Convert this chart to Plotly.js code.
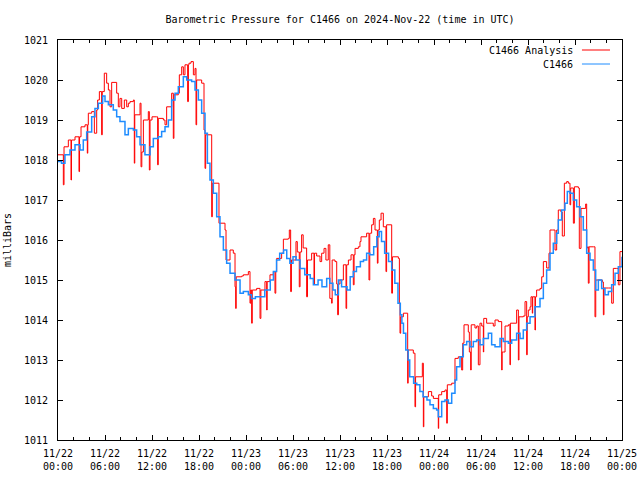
<!DOCTYPE html>
<html>
<head>
<meta charset="utf-8">
<script src="https://cdn.plot.ly/plotly-3.0.1.min.js"></script>
<style>html,body{margin:0;padding:0;background:#fff;}#chart{width:640px;height:480px;}</style>
</head>
<body>
<div id="chart"></div>
<script>
// Hours since 2024-11-22 00:00 UTC
const stationHours = [0,0.45,0.89,1.53,2.17,2.81,3.23,3.66,4.3,4.72,5.15,5.7,6.0,6.43,7.06,7.49,7.91,8.55,8.98,9.62,10.04,10.47,11.1,11.75,12.17,12.81,13.23,13.66,14.09,14.51,14.94,15.36,16.0,16.43,17.06,17.49,17.92,18.34,18.77,19.07,19.4,19.83,20.26,20.68,21.11,21.53,21.96,22.6,23.24,23.66,24.3,24.7,25.2,25.8,26.4,27.1,27.5,27.9,28.3,28.8,29.2,29.6,30.0,30.4,30.9,31.5,32.2,32.6,33.2,33.7,34.3,34.7,35.1,35.4,35.8,36.2,36.9,37.3,37.7,38.1,38.6,39.0,39.4,39.8,40.3,40.7,41.0,41.3,41.7,42.2,42.6,43.0,43.4,43.7,43.9,44.1,44.4,44.7,44.9,45.4,45.8,46.2,46.6,47.1,47.49,47.92,48.34,48.55,48.98,49.4,49.83,50.26,50.68,50.89,51.32,51.74,52.17,52.6,53.02,53.45,53.87,54.3,54.94,55.36,55.79,56.43,56.85,57.49,57.92,58.55,58.98,59.4,59.83,60.26,60.89,61.53,61.96,62.38,62.81,63.23,63.66,63.87,64.3,64.72,65.02,65.36,65.79,66.21,66.64,67.06,67.49,67.92,68.34,68.64,68.98,69.4,69.83,70.26,70.68,71.11,71.53,72.0];
const stationValues = [1017.96,1017.92,1018.13,1018.25,1018.38,1018.25,1018.5,1018.7,1019.08,1019.29,1019.42,1019.6,1019.46,1019.38,1019.25,1019.08,1018.96,1018.63,1018.79,1018.75,1018.58,1018.38,1018.13,1018.33,1018.54,1018.58,1018.71,1018.83,1019.0,1019.5,1019.67,1019.83,1020.08,1020.0,1019.96,1019.75,1019.5,1019.17,1018.67,1017.92,1017.5,1017.17,1016.58,1016.08,1015.75,1015.42,1015.17,1015.0,1014.67,1014.71,1014.63,1014.54,1014.58,1014.58,1014.75,1015.0,1015.21,1015.5,1015.67,1015.75,1015.54,1015.42,1015.58,1015.5,1015.29,1015.13,1015.04,1014.88,1015.0,1014.83,1015.04,1014.92,1014.75,1014.63,1015.0,1014.83,1014.75,1015.08,1015.21,1015.33,1015.46,1015.5,1015.67,1015.63,1015.83,1016.08,1016.21,1015.96,1015.67,1015.46,1015.25,1014.92,1014.42,1014.13,1013.92,1013.67,1013.25,1013.0,1012.58,1012.42,1012.38,1012.21,1012.08,1012.0,1011.88,1011.79,1011.75,1011.58,1011.96,1012.0,1011.92,1012.17,1012.5,1012.83,1013.08,1013.38,1013.46,1013.33,1013.46,1013.5,1013.38,1013.54,1013.67,1013.38,1013.33,1013.54,1013.46,1013.42,1013.5,1013.67,1013.54,1013.75,1013.92,1014.08,1014.33,1014.54,1014.92,1015.25,1015.67,1015.92,1016.17,1016.5,1016.75,1016.92,1017.21,1017.17,1017.0,1016.83,1016.58,1016.25,1015.67,1015.5,1015.25,1014.75,1015.0,1014.79,1014.63,1014.71,1014.88,1015.17,1015.33,1015.58];

const analysisHours = [0,0.68,0.77,1.32,1.66,1.72,2.17,2.68,2.75,2.94,3.45,3.74,3.8,3.87,4.3,4.64,4.94,5.06,5.28,5.57,5.65,5.91,6.21,6.43,6.64,6.85,7.49,7.7,7.91,8.13,8.47,8.77,8.98,9.19,9.62,9.74,9.8,10.47,10.6,10.7,10.9,11.53,11.66,11.75,12.0,12.6,12.72,12.8,13.45,13.66,13.87,14.51,14.72,14.8,15.36,15.49,15.79,16.0,16.21,16.55,16.65,16.72,16.98,17.28,17.49,17.62,17.7,18.34,18.64,18.77,18.85,19.62,19.7,20.55,21.32,21.45,21.96,22.38,22.6,22.68,22.75,23.45,23.66,24.3,24.51,24.6,24.72,24.8,25.36,25.79,25.9,26.42,26.64,26.7,27.06,27.49,27.7,27.8,27.91,28.55,28.77,29.4,29.53,29.7,29.8,30.04,30.38,30.55,30.8,30.9,31.1,31.3,31.74,31.85,32.38,32.68,32.75,33.02,33.45,33.66,33.96,34.2,34.5,34.7,34.93,35.0,35.36,35.58,35.7,35.8,36.0,36.43,36.77,36.85,37.07,37.41,37.7,37.8,37.92,38.34,38.55,38.68,39.4,39.7,39.8,40.04,40.26,40.47,40.77,40.85,41.02,41.24,41.53,41.87,41.95,42.6,42.7,43.45,43.58,43.66,43.75,44.09,44.64,44.7,45.36,45.57,45.65,46.51,46.64,46.7,47.28,47.7,47.92,48.55,48.6,48.98,49.4,49.62,49.7,50.26,50.68,51.1,51.53,51.66,51.83,52.38,52.51,52.68,52.75,53.23,53.45,53.66,53.87,54.09,54.3,54.35,54.72,55.36,55.57,55.79,56.21,56.64,56.7,56.85,57.07,57.49,57.7,57.75,58.34,58.55,58.77,58.85,59.4,59.62,59.83,59.9,60.04,60.26,60.38,60.55,60.6,60.89,60.95,61.1,61.53,61.75,61.96,62.38,62.68,62.81,63.11,63.45,63.66,63.87,64.21,64.38,64.64,64.94,65.15,65.36,65.45,65.79,65.92,66.43,66.55,66.77,67.28,67.36,67.49,67.62,67.7,67.8,68.34,68.55,68.65,69.19,69.49,69.62,69.7,70.26,70.68,70.89,71.32,71.53,71.74,72.0];
const analysisValues = [1018.13,1017.38,1018.33,1018.5,1017.5,1018.5,1018.58,1017.71,1018.58,1018.83,1018.88,1018.17,1018.88,1019.17,1019.21,1018.67,1019.25,1019.5,1019.71,1018.63,1019.71,1020.17,1019.92,1019.75,1019.33,1019.94,1019.67,1019.33,1019.54,1019.29,1019.5,1019.33,1019.42,1019.46,1019.5,1017.92,1019.13,1019.42,1017.83,1018.2,1019.0,1019.21,1017.75,1019.0,1019.08,1019.08,1017.88,1019.04,1019.0,1018.88,1019.33,1019.67,1018.54,1019.63,1019.67,1020.13,1020.33,1020.13,1020.38,1019.46,1020.38,1020.42,1020.46,1020.13,1020.29,1018.88,1020.0,1019.92,1018.75,1017.79,1018.63,1016.58,1017.42,1016.42,1016.25,1015.5,1015.75,1015.67,1014.83,1014.29,1015.08,1015.1,1015.13,1015.21,1014.42,1014.75,1013.92,1014.75,1014.79,1014.04,1014.75,1014.96,1014.25,1014.96,1015.13,1015.21,1014.67,1015.21,1015.54,1015.67,1016.02,1016.04,1016.25,1014.71,1015.5,1015.5,1015.96,1015.7,1014.83,1015.7,1016.13,1015.8,1014.58,1015.5,1015.67,1014.9,1015.67,1015.6,1015.46,1015.67,1015.79,1015.5,1015.88,1014.54,1014.42,1015.5,1015.46,1014.9,1014.13,1014.9,1015.0,1015.38,1014.29,1015.38,1015.5,1015.63,1014.88,1015.63,1015.79,1015.83,1015.96,1016.08,1016.17,1015.0,1016.17,1016.38,1016.54,1016.25,1015.42,1016.25,1016.5,1016.67,1016.33,1015.21,1016.38,1014.67,1015.58,1015.54,1014.42,1013.67,1014.08,1014.17,1012.42,1013.25,1013.17,1011.83,1012.58,1012.92,1011.33,1012.08,1012.21,1012.1,1012.04,1011.29,1012.13,1012.21,1012.25,1011.42,1012.38,1012.42,1013.04,1013.08,1012.75,1013.42,1013.88,1013.7,1013.2,1012.75,1013.88,1013.8,1013.85,1012.88,1013.92,1013.85,1013.2,1014.04,1013.92,1013.92,1013.85,1014.0,1013.96,1012.75,1013.2,1013.2,1013.85,1013.88,1012.88,1013.92,1013.92,1014.25,1013.0,1014.08,1014.1,1014.46,1013.13,1014.08,1014.25,1014.33,1014.58,1014.17,1014.58,1013.75,1014.58,1014.75,1014.79,1015.08,1015.46,1015.3,1015.67,1016.25,1016.25,1015.75,1016.25,1016.75,1016.7,1016.1,1017.42,1017.46,1017.42,1016.88,1017.3,1016.42,1017.33,1017.3,1015.79,1016.79,1016.79,1016.9,1015.8,1015.83,1014.92,1015.83,1015.83,1014.08,1015.0,1015.0,1014.95,1014.13,1014.8,1014.8,1014.42,1015.29,1015.29,1014.88,1015.71,1015.71];

const tickHours = [0,6,12,18,24,30,36,42,48,54,60,66,72];
const tickLabels = ['11/22<br>00:00','11/22<br>06:00','11/22<br>12:00','11/22<br>18:00','11/23<br>00:00','11/23<br>06:00','11/23<br>12:00','11/23<br>18:00','11/24<br>00:00','11/24<br>06:00','11/24<br>12:00','11/24<br>18:00','11/25<br>00:00'];
const seriesNames = ['C1466 Analysis','C1466'];
const seriesColors = ['#ff0000','#1e8cff'];

const FONT = {family:'DejaVu Sans Mono, Liberation Mono, monospace', size:10, color:'#000'};

const traces = [
  {x: analysisHours, y: analysisValues, name: seriesNames[0], mode:'lines', line:{color:seriesColors[0], width:1, shape:'hv'}},
  {x: stationHours, y: stationValues, name: seriesNames[1], mode:'lines', line:{color:seriesColors[1], width:1.5, shape:'hv'}}
];

// legend (gnuplot style: text then sample line) in paper coords
const legY = [0.975, 0.94];
const annotations = seriesNames.map((n,i)=>({xref:'paper',yref:'paper',x:0.9167,y:legY[i],xanchor:'right',yanchor:'middle',text:n,showarrow:false,font:FONT}));
const shapes = seriesNames.map((n,i)=>({type:'line',xref:'paper',yref:'paper',x0:0.929,x1:0.9787,y0:legY[i],y1:legY[i],line:{color:seriesColors[i],width:1}}));

const layout = {
  width:640, height:480,
  margin:{l:58, r:18, t:40, b:40},
  paper_bgcolor:'#fff', plot_bgcolor:'#fff',
  showlegend:false,
  font: FONT,
  title:{text:'Barometric Pressure for C1466 on 2024-Nov-22 (time in UTC)', font:FONT, x:0.5, xref:'paper', y:1-19/480, yref:'container', yanchor:'middle'},
  xaxis:{range:[0,72], tickmode:'array', tickvals:tickHours, ticktext:tickLabels, ticks:'inside', ticklen:5, tickcolor:'#000',
         showline:true, linecolor:'#000', linewidth:1, mirror:'ticks', showgrid:false, zeroline:false, tickfont:FONT,
         ticklabelstandoff:4,
         minor:{dtick:2, tick0:0, ticks:'inside', ticklen:3, tickcolor:'#000', showgrid:false}},
  yaxis:{range:[1011,1021], dtick:1, tick0:1011, ticks:'inside', ticklen:5, tickcolor:'#000',
         showline:true, linecolor:'#000', linewidth:1, mirror:'ticks', showgrid:false, zeroline:false, tickfont:FONT,
         ticklabelstandoff:7, title:{text:'milliBars', font:FONT, standoff:10}},
  annotations: annotations,
  shapes: shapes
};

Plotly.newPlot('chart', traces, layout, {staticPlot:true, displayModeBar:false});
</script>
</body>
</html>
